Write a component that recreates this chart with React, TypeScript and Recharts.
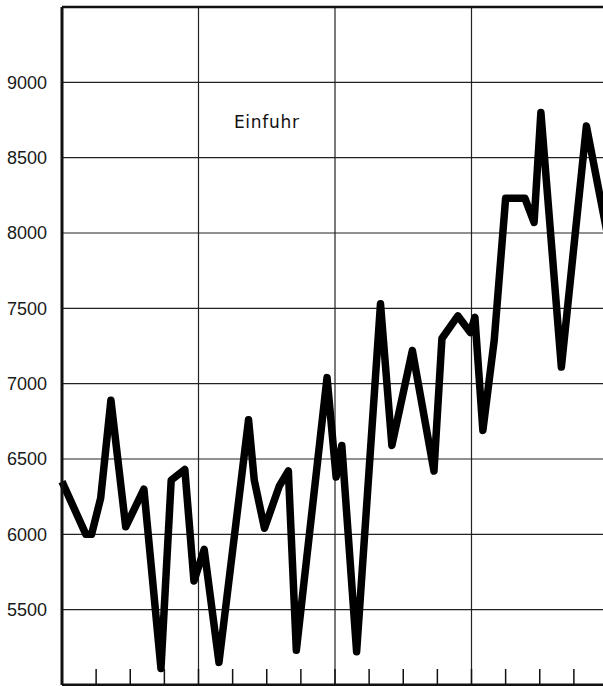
import React from "react"
import {
  LineChart,
  Line,
  XAxis,
  YAxis,
  CartesianGrid,
  ReferenceLine,
  ReferenceDot,
} from "recharts"

// month position (0 = start of first year, 48 = end of fourth year)
const months = [
  0, 2.1, 2.6, 3.4, 4.3, 5.6, 7.2, 8.7, 9.6, 10.8, 11.6, 12.5, 13.8, 16.4,
  16.9, 17.8, 19.1, 19.9, 20.6, 23.3, 24.1, 24.6, 25.9, 28.0, 29.0, 30.8,
  32.7, 33.4, 34.8, 35.9, 36.3, 37.0, 38.0, 39.0, 40.7, 41.5, 42.1, 43.9,
  46.1, 48,
]

const einfuhr = [
  6350, 6000, 6000, 6240, 6890, 6050, 6300, 5110, 6360, 6430, 5690, 5900,
  5150, 6760, 6360, 6040, 6320, 6420, 5230, 7040, 6380, 6590, 5220, 7530,
  6590, 7220, 6420, 7300, 7450, 7340, 7440, 6690, 7290, 8230, 8230, 8070,
  8800, 7110, 8710, 7970,
]

const yTicks = [5500, 6000, 6500, 7000, 7500, 8000, 8500, 9000]
const quarterTicks = [0, 3, 6, 9, 12, 15, 18, 21, 24, 27, 30, 33, 36, 39, 42, 45, 48]
const yearLines = [12, 24, 36]

const data = months.map((m, i) => ({ m, value: einfuhr[i] }))

export default function App() {
  return (
    <div
      style={{
        position: "fixed",
        left: 0,
        top: 0,
        width: 603,
        height: 686,
        overflow: "hidden",
        background: "#fff",
      }}
    >
      <LineChart
        width={613}
        height={686}
        data={data}
        margin={{ top: 7, right: 5, bottom: 1, left: 0 }}
      >
        <CartesianGrid vertical={false} stroke="#222" strokeWidth={1.2} />
        {yearLines.map((x) => (
          <ReferenceLine key={x} x={x} stroke="#222" strokeWidth={1.2} />
        ))}
        <ReferenceLine y={9500} stroke="#111" strokeWidth={2.5} />
        <XAxis
          dataKey="m"
          type="number"
          domain={[0, 48]}
          ticks={quarterTicks}
          height={1}
          mirror
          tickSize={16}
          tickFormatter={() => ""}
          tickLine={{ stroke: "#111", strokeWidth: 1.5 }}
          axisLine={{ stroke: "#111", strokeWidth: 3 }}
        />
        <YAxis
          type="number"
          domain={[5000, 9500]}
          ticks={yTicks}
          width={62}
          tickLine={false}
          tickSize={0}
          tickMargin={15}
          axisLine={{ stroke: "#111", strokeWidth: 3 }}
          tick={{
            fill: "#1a1a1a",
            fontSize: 18,
            fontFamily: "Liberation Sans, Arial, sans-serif",
          }}
        />
        <ReferenceDot
          x={18}
          y={8735}
          r={0}
          stroke="none"
          label={{
            value: "Einfuhr",
            position: "center",
            fill: "#111",
            fontSize: 17,
            letterSpacing: 0.7,
            fontFamily: "DejaVu Sans, sans-serif",
          }}
        />
        <Line
          type="linear"
          dataKey="value"
          stroke="#000"
          strokeWidth={7.5}
          strokeLinejoin="round"
          dot={false}
          isAnimationActive={false}
        />
      </LineChart>
    </div>
  )
}
